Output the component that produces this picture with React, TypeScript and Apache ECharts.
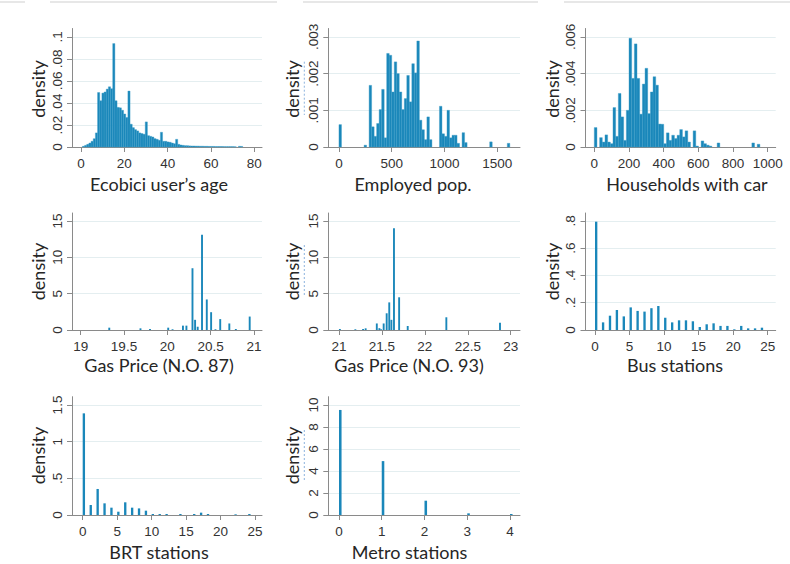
import React, { useEffect, useRef } from "react";
import * as echarts from "echarts";

// ---------- DATA ----------
// Panel 1: Ecobici user's age (bins of width 1)
const ageBinLower = 0.65;
const ageBinWidth = 1;
const ageDensity = [
  0.0006, 0.0015, 0.0024, 0.0036, 0.0052, 0.0076, 0.0128, 0.0495, 0.042, 0.049,
  0.05, 0.0526, 0.0547, 0.053, 0.094, 0.042, 0.036, 0.0356, 0.0334, 0.03,
  0.0267, 0.0508, 0.0207, 0.0176, 0.0158, 0.0146, 0.0128, 0.0122, 0.0116, 0.0228,
  0.0103, 0.0097, 0.0091, 0.0076, 0.007, 0.0061, 0.0134, 0.0052, 0.0052, 0.0046,
  0.0043, 0.0036, 0.003, 0.007, 0.0024, 0.0018, 0.0015, 0.0012, 0.0012, 0.001,
  0.0009, 0.0009, 0.0008, 0.0008, 0.0007, 0.0007, 0.0006, 0.0006, 0.0005, 0.0005,
  0.0005, 0.0004, 0.0004, 0.0004, 0.0004, 0.0003, 0.0003, 0.0003, 0.0003, 0.0003,
  0.0002, 0, 0.0006, 0.0005,
];
const ageTicks = [0, 20, 40, 60, 80];
const ageDensityTicks = [0, 0.02, 0.04, 0.06, 0.08, 0.1];

// Panel 2: Employed pop.
const empBinLower = 0;
const empBinWidth = 23.8;
const empDensity = [
  0.00061, 0, 0, 0, 0, 0, 0, 0, 0, 0,
  0.00005, 0, 0.00168, 0.00055, 0.00029, 0.00064, 0.00102, 0.00157, 0.00025, 0.00255,
  0.0025, 0.0015, 0.00232, 0.002, 0.0015, 0.00102, 0.00132, 0.00195, 0.00123, 0.00227,
  0.00202, 0.00289, 0.00073, 0.00047, 0.0002, 0.00082, 0.0002, 0, 0, 0,
  0.00111, 0.00036, 0.00029, 0.001, 0.00025, 0.00032, 0.00032, 0.0001, 0, 0.00039,
  0.00012, 0, 0, 0, 0, 0, 0, 0, 0, 0,
  0.00014, 0, 0, 0, 0, 0, 0, 0.0001,
];
const empTicks = [0, 500, 1000, 1500];
const empDensityTicks = [0, 0.001, 0.002, 0.003];

// Panel 3: Households with car
const carBinLower = 0;
const carBinWidth = 15.4;
const carDensity = [
  0.00106, 0, 0.00051, 0.00027, 0.00066, 0.00027, 0.00018, 0.00215, 0.00058, 0.00292,
  0.00164, 0.00036, 0.002, 0.00593, 0.00374, 0.00562, 0.00374, 0.00179, 0.00343, 0.00429,
  0.00182, 0.003, 0.00383, 0.00337, 0.00125, 0.00124, 0.00018, 0.00077, 0.00036, 0.00064,
  0.00046, 0.00064, 0.00095, 0.00055, 0.00088, 0.00027, 0, 0.00088, 0.00005, 0,
  0.00033, 0.00018, 0.0001, 0.00005, 0, 0, 0.00022, 0, 0, 0,
  0, 0, 0, 0, 0, 0, 0, 0, 0, 0.00022,
  0, 0.00015,
];
const carTicks = [0, 200, 400, 600, 800, 1000];
const carDensityTicks = [0, 0.002, 0.004, 0.006];

// Panel 4: Gas Price (N.O. 87)
const gas87BarWidth = 0.022;
const gas87Values = [19.33, 19.69, 19.8, 20.01, 20.06, 20.18, 20.22, 20.29, 20.32, 20.35, 20.4, 20.455, 20.505, 20.555, 20.61, 20.715, 20.79, 20.95];
const gas87Density = [0.32, 0.23, 0.14, 0.32, 0.1, 0.6, 0.6, 8.5, 1.4, 0.45, 13.1, 4.2, 2.45, 0.1, 1.5, 0.9, 0.14, 1.85];
const gas87Ticks = [19, 19.5, 20, 20.5, 21];
const gas87DensityTicks = [0, 5, 10, 15];

// Panel 5: Gas Price (N.O. 93)
const gas93BarWidth = 0.022;
const gas93Values = [21.01, 21.19, 21.28, 21.31, 21.44, 21.47, 21.49, 21.52, 21.555, 21.585, 21.61, 21.64, 21.7, 21.8, 22.25, 22.875];
const gas93Density = [0.14, 0.1, 0.14, 0.23, 0.9, 0.25, 0.1, 0.9, 2.3, 3.8, 1.4, 14, 4.5, 0.55, 1.75, 1.0];
const gas93Ticks = [21, 21.5, 22, 22.5, 23];
const gas93DensityTicks = [0, 5, 10, 15];

// Panel 6: Bus stations
const busBarWidth = 0.34;
const busValues = [0, 1, 2, 3, 4, 5, 6, 7, 8, 9, 10, 11, 12, 13, 14, 15, 16, 17, 18, 19, 20, 21, 22, 23, 24];
const busDensity = [0.795, 0.056, 0.105, 0.147, 0.1, 0.166, 0.14, 0.135, 0.16, 0.176, 0.09, 0.056, 0.071, 0.071, 0.064, 0.022, 0.042, 0.049, 0.03, 0.03, 0.005, 0.03, 0.012, 0.012, 0.017];
const busTicks = [0, 5, 10, 15, 20, 25];
const busDensityTicks = [0, 0.2, 0.4, 0.6, 0.8];

// Panel 7: BRT stations
const brtBarWidth = 0.34;
const brtValues = [0, 1, 2, 3, 4, 5, 6, 7, 8, 9, 10, 11, 12, 14, 16, 17, 18, 22, 24];
const brtDensity = [1.386, 0.136, 0.355, 0.159, 0.1, 0.045, 0.173, 0.1, 0.09, 0.059, 0.014, 0.014, 0.014, 0.014, 0.014, 0.032, 0.014, 0.009, 0.014];
const brtTicks = [0, 5, 10, 15, 20, 25];
const brtDensityTicks = [0, 0.5, 1, 1.5];

// Panel 8: Metro stations
const metroBarWidth = 0.06;
const metroValues = [0, 1, 2, 3, 4];
const metroDensity = [9.55, 4.9, 1.3, 0.15, 0.09];
const metroTicks = [0, 1, 2, 3, 4];
const metroDensityTicks = [0, 2, 4, 6, 8, 10];

// ---------- BUILDERS ----------
const uniformBins = (lower: number, width: number, dens: number[]) =>
  dens.map((d, i) => [lower + i * width, lower + (i + 1) * width, d]).filter((r) => r[2] > 0);
const centeredBars = (vals: number[], dens: number[], w: number) =>
  vals.map((v, i) => [v - w / 2, v + w / 2, dens[i]]).filter((r) => r[2] > 0);
const leftBars = (vals: number[], dens: number[], w: number) =>
  vals.map((v, i) => [v, v + w, dens[i]]).filter((r) => r[2] > 0);

const BAR = "#1a87ba";
const AXIS = "#8a8a8a";
const GRIDLINE = "#e4eef0";
const TITLE_FONT = "Lato, 'Open Sans', sans-serif";
const TICK_FONT = "'Liberation Sans', Arial, sans-serif";

const panels = [
  { title: "Ecobici user\u2019s age", data: uniformBins(ageBinLower, ageBinWidth, ageDensity), xMin: -4.15, xMax: 83.55, xTicks: ageTicks, yMax: 0.1077, yTicks: ageDensityTicks, grid: { left: 72, top: 28.5, width: 190, height: 118.5 }, titleX: 159, stroke: true },
  { title: "Employed pop.", data: uniformBins(empBinLower, empBinWidth, empDensity), xMin: -101, xMax: 1715, xTicks: empTicks, yMax: 0.00323, yTicks: empDensityTicks, grid: { left: 328.3, top: 28.5, width: 191.7, height: 118.5 }, titleX: 413, stroke: true },
  { title: "Households with car", data: uniformBins(carBinLower, carBinWidth, carDensity), xMin: -50.7, xMax: 1046, xTicks: carTicks, yMax: 0.00646, yTicks: carDensityTicks, grid: { left: 585.5, top: 28.5, width: 190.2, height: 118.5 }, titleX: 687, stroke: true },
  { title: "Gas Price (N.O. 87)", data: centeredBars(gas87Values, gas87Density, gas87BarWidth), xMin: 18.9, xMax: 21.092, xTicks: gas87Ticks, yMax: 16.1, yTicks: gas87DensityTicks, grid: { left: 72, top: 213, width: 190, height: 117 }, titleX: 159, stroke: false },
  { title: "Gas Price (N.O. 93)", data: centeredBars(gas93Values, gas93Density, gas93BarWidth), xMin: 20.875, xMax: 23.108, xTicks: gas93Ticks, yMax: 16.1, yTicks: gas93DensityTicks, grid: { left: 328.3, top: 213, width: 191.7, height: 117 }, titleX: 409, stroke: false },
  { title: "Bus stations", data: leftBars(busValues, busDensity, busBarWidth), xMin: -1.375, xMax: 26.16, xTicks: busTicks, yMax: 0.8587, yTicks: busDensityTicks, grid: { left: 585.5, top: 213, width: 190.2, height: 117 }, titleX: 675, stroke: false },
  { title: "BRT stations", data: leftBars(brtValues, brtDensity, brtBarWidth), xMin: -1.55, xMax: 26.0, xTicks: brtTicks, yMax: 1.613, yTicks: brtDensityTicks, grid: { left: 72, top: 396.7, width: 190, height: 118.3 }, titleX: 159, stroke: false },
  { title: "Metro stations", data: leftBars(metroValues, metroDensity, metroBarWidth), xMin: -0.25, xMax: 4.234, xTicks: metroTicks, yMax: 10.755, yTicks: metroDensityTicks, grid: { left: 328.3, top: 396.7, width: 191.7, height: 118.3 }, titleX: 409.5, stroke: false },
];

const fmt = (v: number) => String(v).replace(/^0\./, ".");

export default function App() {
  const ref = useRef<HTMLDivElement>(null);
  useEffect(() => {
    if (!ref.current) return;
    const chart = echarts.init(ref.current, undefined, { renderer: "svg" });

    const grids = panels.map((p) => ({ ...p.grid, containLabel: false, outerBoundsMode: "none" }));
    const xAxes = panels.map((p, i) => ({
      type: "value",
      gridIndex: i,
      min: p.xMin,
      max: p.xMax,
      axisLine: { show: true, onZero: false, lineStyle: { color: AXIS, width: 1 } },
      axisTick: { show: true, length: 5, customValues: p.xTicks, lineStyle: { color: AXIS } },
      axisLabel: { customValues: p.xTicks, margin: 9, color: "#333", fontSize: 13.5, fontFamily: TICK_FONT, formatter: (v: number) => fmt(v) },
      splitLine: { show: false },
    }));
    const yAxes = panels.map((p, i) => ({
      type: "value",
      gridIndex: i,
      min: 0,
      max: p.yMax,
      axisLine: { show: true, onZero: false, lineStyle: { color: AXIS, width: 1 } },
      axisTick: { show: true, length: 5, customValues: p.yTicks, lineStyle: { color: AXIS } },
      axisLabel: { customValues: p.yTicks, rotate: 90, margin: 8, color: "#333", fontSize: 13.5, fontFamily: TICK_FONT, formatter: (v: number) => fmt(v) },
      splitLine: { show: true, customValues: p.yTicks, lineStyle: { color: GRIDLINE, width: 1 } },
    }));
    const series = panels.map((p, i) => ({
      type: "custom",
      xAxisIndex: i,
      yAxisIndex: i,
      clip: false,
      encode: { x: [0, 1], y: 2 },
      data: p.data,
      renderItem: (_params: any, api: any) => {
        const a = api.coord([api.value(0), api.value(2)]);
        const b = api.coord([api.value(1), 0]);
        return {
          type: "rect",
          shape: { x: a[0], y: a[1], width: b[0] - a[0], height: b[1] - a[1] },
          style: p.stroke
            ? { fill: BAR, stroke: "#3a9cc8", lineWidth: 0.4 }
            : { fill: BAR },
        };
      },
    }));

    const rowCenters = [89, 271.5, 455.5];
    const titleYs = [183.5, 365, 551.5];
    const densityXs = [38, 291.7, 551.7];
    const graphic: any[] = [];
    panels.forEach((p, i) => {
      const row = Math.floor(i / 3);
      const col = i % 3;
      graphic.push({
        type: "text",
        x: p.titleX,
        y: titleYs[row],
        style: { text: p.title, font: `18px ${TITLE_FONT}`, fill: "#262626", align: "center", verticalAlign: "middle", textAlign: "center", textVerticalAlign: "middle" },
      });
      graphic.push({
        type: "text",
        x: densityXs[col],
        y: rowCenters[row],
        rotation: Math.PI / 2,
        style: { text: "density", font: `18px ${TITLE_FONT}`, fill: "#262626", align: "center", verticalAlign: "middle", textAlign: "center", textVerticalAlign: "middle" },
      });
    });
    // spell-check style dotted marks next to "density" in the middle column
    [[61.7, 115], [245, 296.7], [430, 481.7]].forEach(([y1, y2]) => {
      graphic.push({ type: "line", shape: { x1: 304.3, y1, x2: 304.3, y2 }, style: { stroke: "#8db3de", lineWidth: 1, lineDash: [2, 2] } });
    });
    // thin page borders at the top
    [[0, 25], [50, 277], [303, 538], [564, 790]].forEach(([x1, x2]) => {
      graphic.push({ type: "line", shape: { x1, y1: 2, x2, y2: 2 }, style: { stroke: "#cfcfcf", lineWidth: 1 } });
    });

    chart.setOption({
      animation: false,
      backgroundColor: "#ffffff",
      grid: grids,
      xAxis: xAxes,
      yAxis: yAxes,
      series,
      graphic,
    } as any);
    return () => chart.dispose();
  }, []);
  return <div ref={ref} style={{ position: "fixed", left: 0, top: 0, width: 790, height: 564, background: "#fff" }} />;
}
